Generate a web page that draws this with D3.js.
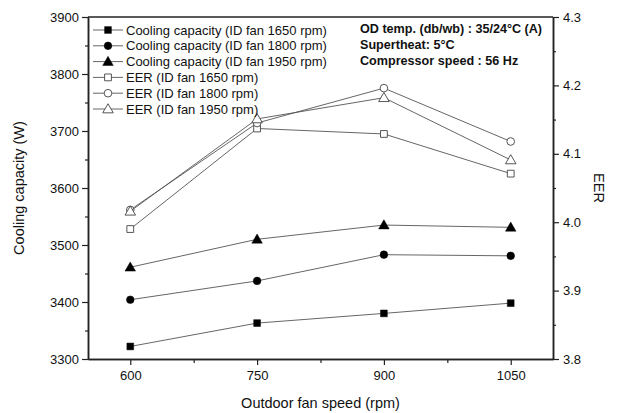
<!DOCTYPE html>
<html>
<head>
<meta charset="utf-8">
<script src="https://cdn.jsdelivr.net/npm/d3@7"></script>
<style>
  body { margin: 0; background: #fff; }
  svg { display: block; font-family: "Liberation Sans", Arial, sans-serif; }
</style>
</head>
<body>
<svg id="chart" width="621" height="413"></svg>
<script>
// data
let fanSpeeds = [600, 750, 900, 1050];
let xTicks = [600, 750, 900, 1050];
let xMinor = [675, 825, 975];
let capTicks = [3300, 3400, 3500, 3600, 3700, 3800, 3900];
let eerTicks = [3.8, 3.9, 4.0, 4.1, 4.2, 4.3];

let cap1650 = [3322, 3363, 3380, 3398];
let cap1800 = [3404, 3437, 3483, 3481];
let cap1950 = [3461, 3510, 3535, 3531];
let eer1650 = [3.990, 4.137, 4.129, 4.071];
let eer1800 = [4.018, 4.145, 4.196, 4.118];
let eer1950 = [4.016, 4.151, 4.182, 4.091];

let series = [
  {label: "Cooling capacity (ID fan 1650 rpm)", values: cap1650, axis: "cap", shape: "square", filled: true},
  {label: "Cooling capacity (ID fan 1800 rpm)", values: cap1800, axis: "cap", shape: "circle", filled: true},
  {label: "Cooling capacity (ID fan 1950 rpm)", values: cap1950, axis: "cap", shape: "triangle", filled: true},
  {label: "EER (ID fan 1650 rpm)", values: eer1650, axis: "eer", shape: "square", filled: false},
  {label: "EER (ID fan 1800 rpm)", values: eer1800, axis: "eer", shape: "circle", filled: false},
  {label: "EER (ID fan 1950 rpm)", values: eer1950, axis: "eer", shape: "triangle", filled: false}
];

let notes = ["OD temp. (db/wb) : 35/24°C (A)", "Supertheat: 5°C", "Compressor speed : 56 Hz"];

let lineColor = "#555";

let svg = d3.select("#chart");
let margin = {left: 88, right: 68, top: 17, bottom: 54};
let width = 621, height = 413;

let x = d3.scaleLinear().domain([550, 1100]).range([margin.left, width - margin.right]);
let yCap = d3.scaleLinear().domain([3300, 3900]).range([height - margin.bottom, margin.top]);
let yEer = d3.scaleLinear().domain([3.8, 4.3]).range([height - margin.bottom, margin.top]);

let symbols = {
  square: d3.symbol().type(d3.symbolSquare).size(46),
  circle: d3.symbol().type(d3.symbolCircle).size(46),
  triangle: d3.symbol().type(d3.symbolTriangle).size(48)
};

// axes
let bottom = height - margin.bottom;
let axisX = svg.append("g").attr("transform", "translate(0," + bottom + ")")
  .call(d3.axisBottom(x).tickValues(xTicks).tickSize(6).tickSizeOuter(0).tickFormat(d3.format("d")));
svg.append("g").attr("transform", "translate(0," + bottom + ")")
  .call(d3.axisBottom(x).tickValues(xMinor).tickSize(4).tickSizeOuter(0).tickFormat(""));

let axisL = svg.append("g").attr("transform", "translate(" + margin.left + ",0)")
  .call(d3.axisLeft(yCap).tickValues(capTicks).tickSize(6).tickSizeOuter(0).tickFormat(d3.format("d")));
svg.append("g").attr("transform", "translate(" + margin.left + ",0)")
  .call(d3.axisLeft(yCap).tickValues(d3.range(3350, 3900, 100)).tickSize(3).tickSizeOuter(0).tickFormat(""));

let axisR = svg.append("g").attr("transform", "translate(" + (width - margin.right) + ",0)")
  .call(d3.axisRight(yEer).tickValues(eerTicks).tickSize(6).tickSizeOuter(0).tickFormat(d3.format(".1f")));
svg.append("g").attr("transform", "translate(" + (width - margin.right) + ",0)")
  .call(d3.axisRight(yEer).tickValues([3.85, 3.95, 4.05, 4.15, 4.25]).tickSize(3).tickSizeOuter(0).tickFormat(""));

// top frame line
svg.append("line")
  .attr("x1", margin.left).attr("x2", width - margin.right)
  .attr("y1", margin.top).attr("y2", margin.top)
  .attr("stroke", "#222").attr("stroke-width", 1.3);

svg.selectAll(".domain").attr("stroke", "#222").attr("stroke-width", 1.5);
svg.selectAll(".tick line").attr("stroke", "#222").attr("stroke-width", 1.2);
svg.selectAll(".tick text").attr("font-size", 13).attr("fill", "#111")
  .attr("font-family", "Liberation Sans, Arial, sans-serif");
axisX.selectAll(".tick text").attr("dy", "0.9em");
axisL.selectAll(".tick text").attr("x", -9);
axisR.selectAll(".tick text").attr("x", 10);

// axis titles
svg.append("text")
  .attr("x", (margin.left + width - margin.right) / 2).attr("y", 408)
  .attr("text-anchor", "middle").attr("font-size", 14.5).attr("fill", "#111")
  .text("Outdoor fan speed (rpm)");
svg.append("text")
  .attr("transform", "translate(24," + ((margin.top + bottom) / 2) + ") rotate(-90)")
  .attr("text-anchor", "middle").attr("font-size", 14.5).attr("fill", "#111")
  .text("Cooling capacity (W)");
svg.append("text")
  .attr("transform", "translate(594," + ((margin.top + bottom) / 2) + ") rotate(90)")
  .attr("text-anchor", "middle").attr("font-size", 14.5).attr("fill", "#111")
  .text("EER");

// series lines and markers
let line = function(s) {
  let yy = s.axis === "cap" ? yCap : yEer;
  return d3.line().x((d, i) => x(fanSpeeds[i])).y(d => yy(d))(s.values);
};

let g = svg.append("g");
series.forEach(function(s) {
  let yy = s.axis === "cap" ? yCap : yEer;
  g.append("path")
    .attr("d", line(s))
    .attr("fill", "none").attr("stroke", lineColor).attr("stroke-width", 0.9);
  g.selectAll(null)
    .data(s.values)
    .enter()
    .append("path")
    .attr("d", symbols[s.shape])
    .attr("transform", (d, i) => "translate(" + x(fanSpeeds[i]) + "," + (yy(d) + (s.shape === "triangle" ? 0.8 : 0)) + ")")
    .attr("fill", s.filled ? "#000" : "#fff")
    .attr("stroke", s.filled ? "#000" : "#444")
    .attr("stroke-width", s.filled ? 0.5 : 0.9);
});

// legend
let legend = svg.append("g").attr("transform", "translate(93,30)");
series.forEach(function(s, i) {
  let row = legend.append("g").attr("transform", "translate(0," + (i * 15.8) + ")");
  row.append("line").attr("x1", 0).attr("x2", 30).attr("y1", 0).attr("y2", 0)
    .attr("stroke", lineColor).attr("stroke-width", 0.9);
  row.append("path").attr("d", symbols[s.shape])
    .attr("transform", "translate(15," + (s.shape === "triangle" ? 0.8 : 0) + ")")
    .attr("fill", s.filled ? "#000" : "#fff")
    .attr("stroke", s.filled ? "#000" : "#444")
    .attr("stroke-width", s.filled ? 0.5 : 0.9);
  row.append("text").attr("x", 33).attr("y", 4.5)
    .attr("font-size", 13).attr("fill", "#111")
    .text(s.label);
});

// annotation
svg.append("g").selectAll("text")
  .data(notes)
  .enter()
  .append("text")
  .attr("x", 360).attr("y", (d, i) => 33 + i * 16)
  .attr("font-size", 12.6).attr("font-weight", "bold").attr("fill", "#111")
  .text(d => d);
</script>
</body>
</html>
